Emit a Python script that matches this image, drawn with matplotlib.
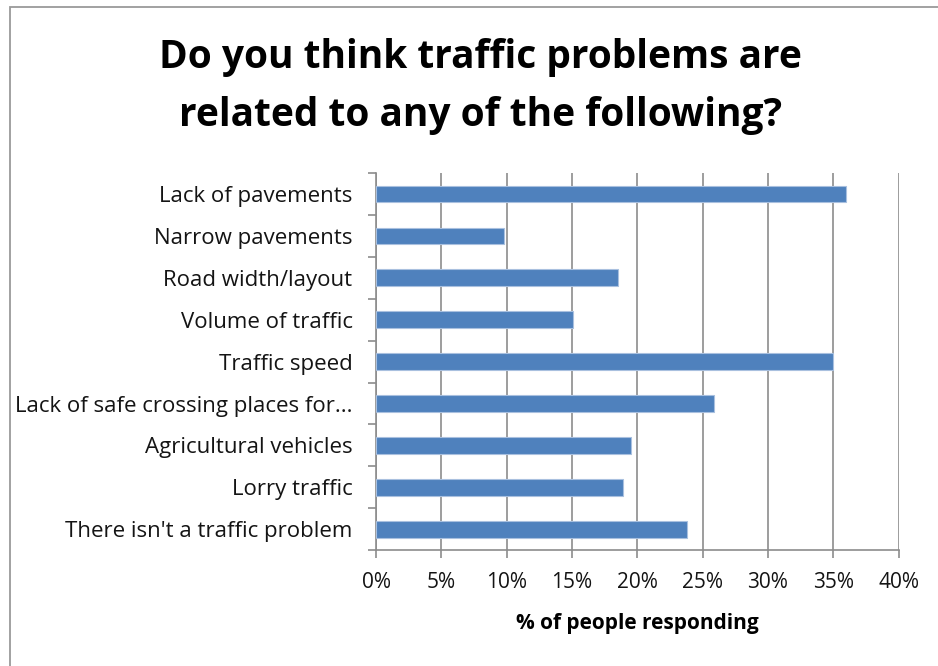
import matplotlib.pyplot as plt
from matplotlib.patches import Rectangle
from matplotlib.ticker import PercentFormatter

categories = [
    "Lack of pavements",
    "Narrow pavements",
    "Road width/layout",
    "Volume of traffic",
    "Traffic speed",
    "Lack of safe crossing places for...",
    "Agricultural vehicles",
    "Lorry traffic",
    "There isn't a traffic problem",
]
percent = [36.0, 9.8, 18.5, 15.1, 35.0, 25.9, 19.5, 18.9, 23.8]
x_ticks = [0, 5, 10, 15, 20, 25, 30, 35, 40]

plt.rcParams['font.family'] = ['Open Sans', 'DejaVu Sans']

fig = plt.figure(figsize=(9.38, 6.66), dpi=100)
ax = fig.add_axes([0.401, 0.174, 0.557, 0.566])

# outer chart frame (left and top edges visible)
fig.patches.append(Rectangle((0.011, -0.05), 1.1, 1.0395, transform=fig.transFigure,
                             fill=False, edgecolor='#9a9a9a', linewidth=1.3))

pos = list(range(len(categories)))[::-1]
ax.barh(pos, percent, height=0.4, color='#4F81BD', edgecolor='#a9c0df', linewidth=0.8, zorder=3)

ax.set_xlim(0, 40)
ax.set_ylim(-0.5, len(categories) - 0.5)
ax.set_xticks(x_ticks)
ax.xaxis.set_major_formatter(PercentFormatter(decimals=0))
ax.set_yticks(pos)
ax.set_yticklabels(categories)

# tick marks between categories
ax.set_yticks([p - 0.5 for p in range(len(categories) + 1)], minor=True)
ax.tick_params(axis='y', which='major', length=0, pad=17, labelsize=16, labelcolor='#141414')
ax.tick_params(axis='y', which='minor', length=6, color='#8c8c8c', width=1.2)
ax.tick_params(axis='x', length=6, color='#8c8c8c', width=1.2, pad=10, labelsize=15, labelcolor='#141414')

ax.grid(axis='x', color='#8c8c8c', linewidth=1.2, zorder=0)
for side in ['top', 'right']:
    ax.spines[side].set_visible(False)
for side in ['left', 'bottom']:
    ax.spines[side].set_color('#8c8c8c')
    ax.spines[side].set_linewidth(1.2)

ax.set_xlabel('% of people responding', fontsize=15, fontweight='bold', labelpad=14)

fig.text(0.512, 0.870, 'Do you think traffic problems are\nrelated to any of the following?',
         ha='center', va='center', fontsize=28, fontweight='bold', linespacing=1.62)

fig.savefig('out.png', dpi=100)
